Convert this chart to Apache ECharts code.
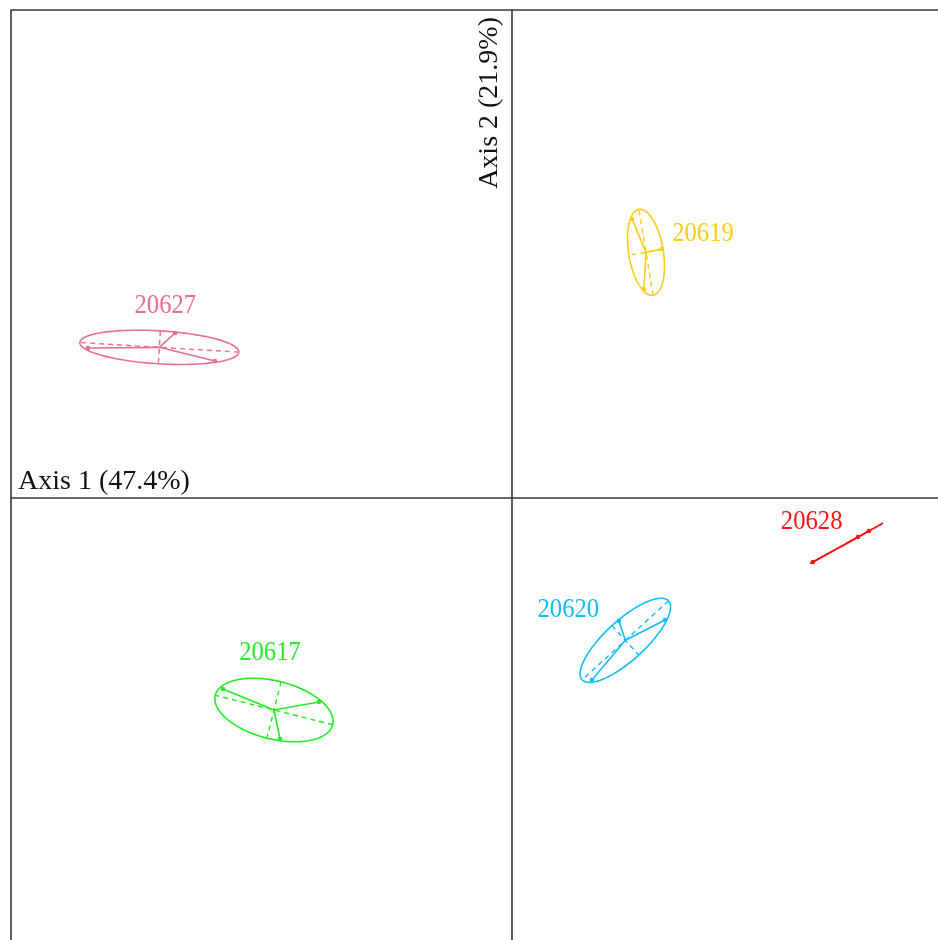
<!DOCTYPE html>
<html>
<head>
<meta charset="utf-8">
<script src="https://cdn.jsdelivr.net/npm/echarts@6/dist/echarts.min.js"></script>
<style>
html,body{margin:0;padding:0;background:#fff;}
#chart{width:938px;height:940px;}
</style>
</head>
<body>
<div id="chart"></div>
<script>
// ---- data (factor scores of individuals, grouped) ----
const groupNames = ['20627', '20619', '20617', '20620', '20628'];
const g20627X = [-4.24, -2.97, -3.37];
const g20627Y = [1.50, 1.37, 1.65];
const g20619X = [1.20, 1.32, 1.50];
const g20619Y = [2.79, 2.09, 2.49];
const g20617X = [-2.89, -1.93, -2.32];
const g20617Y = [-1.91, -2.04, -2.41];
const g20620X = [1.53, 0.80, 1.07];
const g20620Y = [-1.22, -1.82, -1.23];
const g20628X = [3.01, 3.46, 3.57];
const g20628Y = [-0.64, -0.39, -0.33];
const axis1Label = 'Axis 1 (47.4%)';
const axis2Label = 'Axis 2 (21.9%)';

// ---- style ----
const groupColors = ['#EE6A98', '#FFCC14', '#22EE22', '#14BBFF', '#FF1414'];
const labelOffsets = [[6, -42], [57, -19], [-4, -57], [-57, -31], [-35, -22]];
const ellipseScale = 1.5;

const groupsX = [g20627X, g20619X, g20617X, g20620X, g20628X];
const groupsY = [g20627Y, g20619Y, g20617Y, g20620Y, g20628Y];

function stats(xs, ys) {
  const n = xs.length;
  let mx = 0, my = 0;
  for (let i = 0; i < n; i++) { mx += xs[i]; my += ys[i]; }
  mx /= n; my /= n;
  let vxx = 0, vyy = 0, vxy = 0;
  for (let i = 0; i < n; i++) {
    const dx = xs[i] - mx, dy = ys[i] - my;
    vxx += dx * dx; vyy += dy * dy; vxy += dx * dy;
  }
  vxx /= n; vyy /= n; vxy /= n;
  const half = (vxx + vyy) / 2;
  const r = Math.sqrt(((vxx - vyy) / 2) ** 2 + vxy * vxy);
  const l1 = half + r, l2 = Math.max(half - r, 0);
  const th = 0.5 * Math.atan2(2 * vxy, vxx - vyy);
  return { mx, my, a: ellipseScale * Math.sqrt(l1), b: ellipseScale * Math.sqrt(l2), th };
}

const series = groupNames.map(function (name, gi) {
  const xs = groupsX[gi], ys = groupsY[gi];
  const s = stats(xs, ys);
  const col = groupColors[gi];
  return {
    type: 'custom',
    name: name,
    coordinateSystem: 'cartesian2d',
    data: [[s.mx, s.my]],
    clip: false,
    silent: true,
    renderItem: function (params, api) {
      const c = api.coord([s.mx, s.my]);
      const ct = Math.cos(s.th), st = Math.sin(s.th);
      const ell = [];
      for (let k = 0; k <= 120; k++) {
        const t = 2 * Math.PI * k / 120;
        const ex = s.mx + s.a * Math.cos(t) * ct - s.b * Math.sin(t) * st;
        const ey = s.my + s.a * Math.cos(t) * st + s.b * Math.sin(t) * ct;
        ell.push(api.coord([ex, ey]));
      }
      const children = [];
      children.push({ type: 'polyline', shape: { points: ell }, style: { stroke: col, lineWidth: 1.6, fill: null } });
      const a1 = api.coord([s.mx + s.a * ct, s.my + s.a * st]);
      const a2 = api.coord([s.mx - s.a * ct, s.my - s.a * st]);
      const b1 = api.coord([s.mx - s.b * st, s.my + s.b * ct]);
      const b2 = api.coord([s.mx + s.b * st, s.my - s.b * ct]);
      children.push({ type: 'line', shape: { x1: a1[0], y1: a1[1], x2: a2[0], y2: a2[1] }, style: { stroke: col, lineWidth: 1.4, lineDash: [5, 4] } });
      children.push({ type: 'line', shape: { x1: b1[0], y1: b1[1], x2: b2[0], y2: b2[1] }, style: { stroke: col, lineWidth: 1.4, lineDash: [5, 4] } });
      for (let i = 0; i < xs.length; i++) {
        const p = api.coord([xs[i], ys[i]]);
        children.push({ type: 'line', shape: { x1: c[0], y1: c[1], x2: p[0], y2: p[1] }, style: { stroke: col, lineWidth: 1.6 } });
      }
      for (let i = 0; i < xs.length; i++) {
        const p = api.coord([xs[i], ys[i]]);
        children.push({ type: 'circle', shape: { cx: p[0], cy: p[1], r: 2.3 }, style: { fill: col } });
      }
      children.push({
        type: 'text',
        x: c[0] + labelOffsets[gi][0],
        y: c[1] + labelOffsets[gi][1],
        scaleX: 0.88,
        style: { text: name, fill: col, font: '28px "Liberation Serif"', align: 'center', verticalAlign: 'middle' }
      });
      return { type: 'group', children: children };
    }
  };
});

const chart = echarts.init(document.getElementById('chart'), null, { renderer: 'canvas' });
const axisLineStyle = { color: '#383838', width: 1.6 };
chart.setOption({
  animation: false,
  backgroundColor: '#fff',
  grid: { show: true, left: 11, top: 10, width: 940, height: 940, outerBoundsMode: 'none', containLabel: false, borderColor: '#383838', borderWidth: 1.6, backgroundColor: 'transparent' },
  xAxis: { type: 'value', min: -5.01, max: 4.39, axisLine: { show: true, onZero: true, lineStyle: axisLineStyle }, axisTick: { show: false }, axisLabel: { show: false }, splitLine: { show: false } },
  yAxis: { type: 'value', min: -4.52, max: 4.88, axisLine: { show: true, onZero: true, lineStyle: axisLineStyle }, axisTick: { show: false }, axisLabel: { show: false }, splitLine: { show: false } },
  series: series
});

const origin = chart.convertToPixel({ gridIndex: 0 }, [0, 0]);
const topLeft = chart.convertToPixel({ gridIndex: 0 }, [-5.01, 4.88]);
chart.setOption({
  graphic: [
    { type: 'text', x: topLeft[0] + 7, y: origin[1] - 2, style: { text: axis1Label, fill: '#111', font: '28px "Liberation Serif"', align: 'left', verticalAlign: 'bottom' } },
    { type: 'text', x: origin[0] - 8, y: topLeft[1] + 7, rotation: Math.PI / 2, style: { text: axis2Label, fill: '#111', font: '28px "Liberation Serif"', align: 'right', verticalAlign: 'bottom' } }
  ]
});
</script>
</body>
</html>
